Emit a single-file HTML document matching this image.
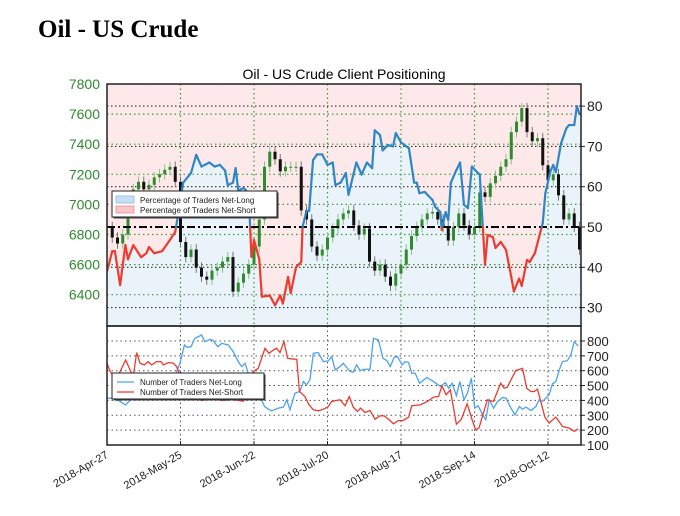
<!DOCTYPE html>
<html><head><meta charset="utf-8"><style>
body{margin:0;background:#fff;}
svg text{font-family:"Liberation Sans",sans-serif;}
</style></head><body>
<svg id="c" width="680" height="511" xmlns="http://www.w3.org/2000/svg">
<text x="38" y="37" font-weight="bold" font-size="25" style="font-family:'Liberation Serif',serif">Oil - US Crude</text>
<text x="344" y="79" text-anchor="middle" font-size="14">Oil - US Crude Client Positioning</text>
<g id="topg"></g><g id="botg"></g><g id="axesg"></g>
</svg>
<script>
// ---- data ----
const pctDays=[0,2,3,5,7,8,10,13,15,16,18,21,24,26,28,29,32,34,36,39,41,43,45,46,48,49,50,52,54,55,56,58,59,62,64,66,67,69,70,72,74,74.5,76,77,78.5,80,82,84,86,87,89,91,92,94,95,97,99,101,102,104,105,107,109,110,112,114,115,117,118,119,121,124,125,127,127.5,129,130,131,133,134.5,136,137.5,139,141,142,144,145,147,148,150,152,154,155,157,158,160,161,163,165,166,167,169,170,171,173,175,176,178,179,180];
const pctLong=[39,44,44,35.6,45.5,42,45.5,42.5,43.5,45,43.5,44,46.8,48.8,56.7,61,63.4,67.9,65,66,65,65.4,64,60.4,61,64.6,59,59.7,58.4,42.6,46.8,42,32.7,33,30.6,33,31,37.6,33.6,40,41.3,50,54,54,66.6,68,68,65.4,66,60.4,61,63.4,58,63.4,66,63,66,64.6,74,72.8,69,70.3,70,73.3,71,70,69.6,61,61,58.4,58.7,56.7,55,53.7,49.3,53.7,51.7,61,64,66,55.5,54.7,65,63.6,63,40.6,48,47.5,44.8,46.3,44.3,37.6,34,37.2,35.4,41.8,41.3,43.5,48.5,51,58.4,64,65.4,63.6,70.8,74.5,75.3,75.3,80,78];
const priceDays=[0,2,4,6,8,10,12,14,16,18,20,22,24,26,28,30,32,34,36,38,40,42,44,46,48,50,52,54,56,58,60,62,64,66,68,70,72,74,76,78,80,82,84,86,88,90,92,94,96,98,100,102,104,106,108,110,112,114,116,118,120,122,124,126,128,130,132,134,136,138,140,142,144,146,148,150,152,154,156,158,160,162,164,166,168,170,172,174,176,178,180];
const priceClose=[6850,6780,6740,6800,6950,7100,7150,7100,7130,7180,7200,7230,7250,7150,6750,6650,6700,6580,6520,6500,6560,6580,6620,6650,6420,6480,6540,6600,6720,6900,7250,7350,7300,7220,7250,7250,7250,6960,6900,6720,6660,6700,6780,6840,6900,6940,6960,6860,6800,6840,6620,6560,6600,6520,6460,6540,6600,6700,6790,6850,6900,6940,6950,6900,6850,6760,6850,6940,6860,6800,6850,7080,7050,7140,7190,7250,7300,7480,7550,7640,7480,7420,7440,7260,7160,7200,7060,6900,6940,6850,6700];
const cntLongDays=[0,2,5,7,9,12,16,20,24,26.5,27.8,29.5,30.7,32,33.5,36,37.3,39.2,40.5,42.2,43.7,46.2,48.1,50,51.3,52.6,53.8,57,60,61.5,62.7,65.3,67.2,68.5,69.7,71.6,73.5,74.8,76,77.3,78.6,80.5,82.4,84.3,85.6,86.9,88.8,90,92.6,93.8,95.1,96.4,98.3,100.2,101.5,103.4,105.1,106.6,107.9,109.4,110.7,112.4,113.6,114.9,116.1,117.4,119.1,121.9,124.4,127,128.9,130.2,131.5,133.1,134.4,136,137.3,138.8,140.1,141.4,143.1,144.3,145.6,147.3,148.8,150.7,152,153.9,155.4,157.1,158.3,159.6,161.5,163.4,164.6,165.9,168.4,169.7,171,172.3,173.5,175.4,176.7,178,179.5];
const cntLong=[415,415,393,370,404,430,440,450,460,594,650,773,757,762,818,840,795,811,802,762,784,773,728,661,628,650,583,480,359,341,330,348,355,404,337,449,460,527,505,538,717,722,661,666,695,605,628,650,594,590,639,601,610,610,818,807,684,668,628,690,695,639,661,655,583,583,516,554,527,494,520,482,516,431,527,404,449,549,348,364,303,270,404,348,393,420,415,348,303,359,341,355,332,359,404,393,438,512,527,605,661,668,706,796,766];
const cntShortDays=[0,1.2,3,5,7.1,8.8,10,11.3,12.6,14.2,15.7,17,18.9,20.6,21.5,23.4,25.3,26.5,28,32,36,40,44,48,52,55.7,57.6,60.2,61.7,63.4,64.6,65.9,67.4,68.8,70.3,72.3,73.3,75.4,77,78.6,80.5,82.4,84.1,85.6,87.5,88.8,90.7,92.3,93.8,95.4,96.6,98.3,100.2,102.1,104,105.6,107.2,109.1,111,112.9,114.9,116.1,119.3,122.1,124.4,126.3,127.6,129.2,130.8,133.1,134.9,137.2,139.1,140.4,141.7,144.9,147.2,150,151.3,152.5,155.7,158.3,159.9,161.5,162.8,164,166.8,168.4,171,173.5,176.1,178,179.5];
const cntShort=[650,594,549,594,672,605,560,722,650,639,661,639,661,661,639,655,650,628,560,420,400,410,400,405,395,594,616,751,717,739,751,722,796,684,679,677,460,426,370,337,330,341,355,393,400,404,364,426,355,326,348,319,332,274,296,296,274,243,265,265,288,364,370,393,422,426,498,438,471,240,270,377,270,203,214,404,393,516,482,489,601,616,482,460,460,476,288,248,288,225,214,192,209];
const dateLabels=["2018-Apr-27","2018-May-25","2018-Jun-22","2018-Jul-20","2018-Aug-17","2018-Sep-14","2018-Oct-12"];
const dateDays=[0,28,56,84,112,140,168];
const priceTicks=[6400,6600,6800,7000,7200,7400,7600,7800];
const pctTicks=[30,40,50,60,70,80];
const cntTicks=[100,200,300,400,500,600,700,800];
// ---- scales ----
const L=107,R=581,T=84,M=326,B=445;
const xD=d=>L+d*2.625;
const yP=p=>227-(p-50)*4.03;
const yPr=v=>T+(7800-v)/200*30.1;
const yC=v=>B-(v-100)*0.1486;
const NS="http://www.w3.org/2000/svg";
function mk(tag,attrs,parent){const e=document.createElementNS(NS,tag);for(const k in attrs)e.setAttribute(k,attrs[k]);parent.appendChild(e);return e;}
const gTop=document.getElementById('topg'),gBot=document.getElementById('botg'),gAx=document.getElementById('axesg');
const nP=Math.min(pctDays.length,pctLong.length);
const nPr=Math.min(priceDays.length,priceClose.length);
const nL=Math.min(cntLongDays.length,cntLong.length);
const nS=Math.min(cntShortDays.length,cntShort.length);
// clip
const defs=mk('defs',{},gTop);const cp=mk('clipPath',{id:'cp'},defs);mk('rect',{x:L,y:T,width:R-L,height:M-T},cp);
const g=mk('g',{'clip-path':'url(#cp)'},gTop);
// backgrounds
let pts=[];for(let i=0;i<nP;i++)pts.push(xD(pctDays[i])+','+yP(pctLong[i]));pts=pts.join(' ');
const lastY=yP(pctLong[nP-1]);
const bgPink=mk('polygon',{points:`${L},${T} ${L},${yP(pctLong[0])} ${pts} ${R},${lastY} ${R},${T}`,fill:'#fde9e9'},g);


const bgBlue=mk('polygon',{points:`${L},${M} ${L},${yP(pctLong[0])} ${pts} ${R},${lastY} ${R},${M}`,fill:'#eaf3fa'},g);


// grids
priceTicks.forEach(v=>{mk('line',{x1:L,x2:R,y1:yPr(v),y2:yPr(v),stroke:'#3a9a3a','stroke-dasharray':'1.5,3','stroke-width':1.2},g);});
pctTicks.forEach(v=>{if(v!==50)mk('line',{x1:L,x2:R,y1:yP(v),y2:yP(v),stroke:'#333','stroke-dasharray':'1.5,2.5','stroke-width':1.1},g);});
dateDays.forEach(d=>{mk('line',{x1:xD(d),x2:xD(d),y1:T,y2:M,stroke:'#3a9a3a','stroke-dasharray':'1.5,3','stroke-width':1.2},g);});
// candles
for(let i=1;i<nPr;i++){
  const o=priceClose[i-1],c=priceClose[i],x=xD(priceDays[i]);
  const hi=Math.max(o,c)+35,lo=Math.min(o,c)-35,col=c>=o?'#2e8b2e':'#111';
  mk('line',{x1:x,x2:x,y1:yPr(hi),y2:yPr(lo),stroke:c>=o?'#8bc08b':'#777','stroke-width':1},g);
  const bd=mk('rect',{x:x-1.5,y:yPr(Math.max(o,c)),width:3,height:Math.max(1,yPr(Math.min(o,c))-yPr(Math.max(o,c))),fill:col},g);
  
  
}
// 50 line
mk('line',{x1:L,x2:R,y1:yP(50),y2:yP(50),stroke:'#000','stroke-width':2,'stroke-dasharray':'8,3,2,3'},g);
// pct line colored
function seg(a,b,c,e){
  const s=mk('line',{x1:xD(a),y1:yP(b),x2:xD(c),y2:yP(e),stroke:((b+e)/2>=50)?'#2f86c6':'#f03a2e','stroke-width':2.2,'stroke-linecap':'round'},g);
  
  
}
for(let i=1;i<nP;i++){
  const d0=pctDays[i-1],p0=pctLong[i-1],d1=pctDays[i],p1=pctLong[i];
  if((p0-50)*(p1-50)<0){const t=(50-p0)/(p1-p0),dm=d0+t*(d1-d0);seg(d0,p0,dm,50);seg(dm,50,d1,p1);}else seg(d0,p0,d1,p1);
}
// bottom panel
cntTicks.forEach(v=>{if(v>100)mk('line',{x1:L,x2:R,y1:yC(v),y2:yC(v),stroke:'#555','stroke-dasharray':'1.5,3'},gBot);});
dateDays.forEach(d=>{mk('line',{x1:xD(d),x2:xD(d),y1:M,y2:B,stroke:'#555','stroke-dasharray':'1.5,3'},gBot);});
let lp=[];for(let i=0;i<nL;i++)lp.push(xD(cntLongDays[i])+','+yC(cntLong[i]));
const lLine=mk('polyline',{points:lp.join(' '),fill:'none',stroke:'#4aa3f0','stroke-width':1.3},gBot);


let sp=[];for(let i=0;i<nS;i++)sp.push(xD(cntShortDays[i])+','+yC(cntShort[i]));
const sLine=mk('polyline',{points:sp.join(' '),fill:'none',stroke:'#f03a2e','stroke-width':1.3},gBot);


// frames
mk('rect',{x:L,y:T,width:R-L,height:M-T,fill:'none',stroke:'#222','stroke-width':1.5},gAx);
mk('rect',{x:L,y:M,width:R-L,height:B-M,fill:'none',stroke:'#222','stroke-width':1.5},gAx);
// tick labels
priceTicks.forEach(v=>{const t=mk('text',{x:100,y:yPr(v)+5,'text-anchor':'end','font-size':14,fill:'#2e8b2e'},gAx);t.textContent=v;});
pctTicks.forEach(v=>{mk('line',{x1:R,x2:R+4,y1:yP(v),y2:yP(v),stroke:'#222'},gAx);const t=mk('text',{x:587,y:yP(v)+5,'font-size':14,fill:'#222'},gAx);t.textContent=v;});
cntTicks.forEach(v=>{mk('line',{x1:R,x2:R+4,y1:yC(v),y2:yC(v),stroke:'#222'},gAx);const t=mk('text',{x:587,y:yC(v)+5,'font-size':13,fill:'#222'},gAx);t.textContent=v;});
dateDays.forEach((d,i)=>{const x=xD(d);mk('line',{x1:x,x2:x,y1:B,y2:B-4,stroke:'#222'},gAx);const t=mk('text',{x:x+2,y:B+12,'text-anchor':'end','font-size':11,fill:'#222',transform:`rotate(-30 ${x+2} ${B+12})`},gAx);t.textContent=dateLabels[i];});
// legends
function legend(x,y,w,h,items,patch,fs,name){
  const lg=mk('g',{},gAx);
  
  
  mk('rect',{x:x+1.5,y:y+1.5,width:w,height:h,fill:'#444'},lg);
  mk('rect',{x:x,y:y,width:w,height:h,fill:'#fff',stroke:'#222','stroke-width':1},lg);
  items.forEach((it,i)=>{const yy=y+7+i*(h-6)/items.length;
    if(patch)mk('rect',{x:x+4,y:yy-2,width:18,height:7,fill:it[1],stroke:it[2],'stroke-width':0.8},lg);
    else mk('line',{x1:x+5,x2:x+22,y1:yy+2,y2:yy+2,stroke:it[1],'stroke-width':1.3},lg);
    const t=mk('text',{x:x+28,y:yy+5,'font-size':fs,fill:'#222'},lg);t.textContent=it[0];});
}
legend(112,191,165,26,[["Percentage of Traders Net-Long","#c6dff5","#8ab8e2"],["Percentage of Traders Net-Short","#f9c6c6","#ee9090"]],true,8,'top-legend');
legend(112,373,152,26,[["Number of Traders Net-Long","#4aa3f0"],["Number of Traders Net-Short","#f03a2e"]],false,8,'bottom-legend');
</script>
</body></html>
